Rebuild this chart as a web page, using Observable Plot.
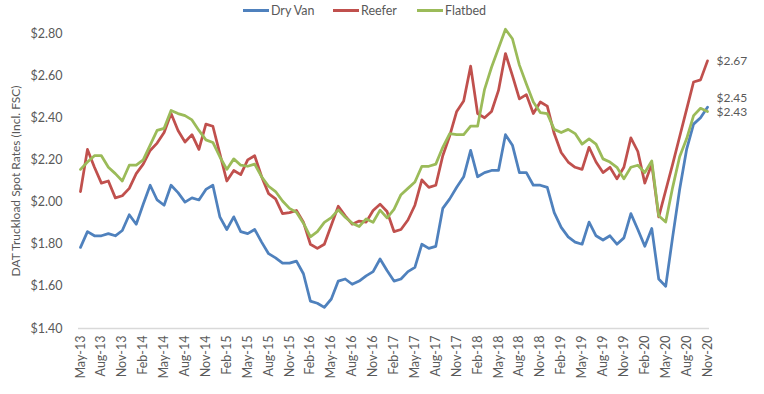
<!DOCTYPE html>
<html><head><meta charset="utf-8">
<script src="https://cdn.jsdelivr.net/npm/d3@7"></script>
<script src="https://cdn.jsdelivr.net/npm/@observablehq/plot@0.6"></script>
<style>
body{margin:0;background:#fff;}
#wrap{position:relative;width:764px;height:394px;font-family:Lato,sans-serif;}
.item{position:absolute;top:3px;display:flex;align-items:center;white-space:nowrap;font:12.5px Lato,sans-serif;color:#595959;}
.swatch{width:26px;height:3px;margin-right:2px;}
</style></head><body><div id="wrap"></div>
<script>
const seriesNames = ["Dry Van", "Reefer", "Flatbed"];
const seriesColors = ["#4F81BD", "#C0504D", "#9BBB59"];
const yTicks = [1.4, 1.6, 1.8, 2.0, 2.2, 2.4, 2.6, 2.8];
const tickLabels = ["May-13","Aug-13","Nov-13","Feb-14","May-14","Aug-14","Nov-14","Feb-15","May-15","Aug-15","Nov-15","Feb-16","May-16","Aug-16","Nov-16","Feb-17","May-17","Aug-17","Nov-17","Feb-18","May-18","Aug-18","Nov-18","Feb-19","May-19","Aug-19","Nov-19","Feb-20","May-20","Aug-20","Nov-20"];
const monthNames = ["Jan","Feb","Mar","Apr","May","Jun","Jul","Aug","Sep","Oct","Nov","Dec"];
const yTitle = "DAT Truckload Spot Rates (Incl. FSC)";

const dryVan = [1.785,1.86,1.84,1.84,1.85,1.84,1.865,1.94,1.895,1.99,2.08,2.01,1.985,2.08,2.045,2.00,2.02,2.01,2.06,2.08,
1.93,1.87,1.93,1.86,1.85,1.87,1.81,1.755,1.735,1.71,1.71,1.72,1.66,1.53,1.52,1.50,1.54,1.625,1.635,1.61,
1.625,1.65,1.67,1.73,1.675,1.625,1.635,1.67,1.69,1.80,1.78,1.79,1.97,2.015,2.07,2.12,2.245,2.12,2.14,2.15,
2.15,2.32,2.27,2.14,2.14,2.08,2.08,2.07,1.95,1.88,1.835,1.81,1.80,1.905,1.84,1.82,1.84,1.80,1.83,1.945,
1.87,1.79,1.875,1.635,1.60,1.835,2.06,2.25,2.37,2.40,2.45];
const reefer = [2.05,2.25,2.165,2.09,2.10,2.02,2.03,2.065,2.135,2.18,2.245,2.28,2.33,2.42,2.34,2.285,2.32,2.25,2.37,2.36,
2.23,2.10,2.15,2.13,2.20,2.22,2.12,2.04,2.015,1.945,1.95,1.96,1.905,1.80,1.78,1.80,1.89,1.98,1.935,1.895,
1.91,1.905,1.96,1.99,1.955,1.86,1.87,1.915,1.985,2.105,2.07,2.08,2.22,2.315,2.43,2.48,2.645,2.42,2.40,2.43,
2.53,2.705,2.60,2.49,2.51,2.42,2.475,2.455,2.325,2.235,2.19,2.165,2.155,2.26,2.19,2.14,2.165,2.11,2.165,2.305,
2.24,2.09,2.18,1.93,2.055,2.18,2.31,2.44,2.57,2.58,2.67];
const flatbed = [2.155,2.19,2.22,2.22,2.165,2.135,2.10,2.175,2.175,2.20,2.27,2.34,2.35,2.435,2.42,2.41,2.39,2.34,2.295,2.283,
2.215,2.155,2.205,2.175,2.17,2.18,2.12,2.075,2.05,2.005,1.97,1.952,1.90,1.835,1.86,1.904,1.926,1.963,1.928,1.90,
1.884,1.92,1.904,1.962,1.925,1.965,2.035,2.065,2.095,2.17,2.17,2.18,2.26,2.325,2.32,2.32,2.36,2.36,2.535,2.64,
2.73,2.82,2.775,2.65,2.56,2.475,2.425,2.42,2.345,2.33,2.345,2.325,2.275,2.30,2.275,2.205,2.19,2.165,2.11,2.165,
2.175,2.14,2.195,1.935,1.905,2.07,2.215,2.30,2.41,2.445,2.43];

// month categories May-13 .. Nov-20
const months = [];
for (let y = 13; y <= 20; y++) {
  for (let m = 0; m < 12; m++) {
    if (y === 13 && m < 4) continue;
    if (y === 20 && m > 10) continue;
    months.push(`${monthNames[m]}-${y}`);
  }
}

const seriesValues = [dryVan, reefer, flatbed];
const data = [];
seriesNames.forEach((s, k) => seriesValues[k].forEach((v, i) => data.push({series: s, month: months[i], value: v})));

const fmt = d => "$" + d.toFixed(2);
const last = k => ({month: months[months.length - 1], value: seriesValues[k][seriesValues[k].length - 1]});

const chart = Plot.plot({
  width: 764, height: 394,
  marginLeft: 80, marginRight: 57, marginTop: 33, marginBottom: 66,
  style: {fontFamily: "Lato, sans-serif", fontSize: "12.5px", color: "#595959", background: "white", overflow: "visible"},
  x: {type: "point", domain: months, padding: 0},
  y: {domain: [1.4, 2.8]},
  color: {domain: seriesNames, range: seriesColors},
  marks: [
    Plot.ruleY([1.4], {stroke: "#d9d9d9", strokeWidth: 1.3, insetLeft: -2, insetRight: -2}),
    Plot.axisY({ticks: yTicks, tickSize: 0, tickPadding: 18, tickFormat: fmt, label: null}),
    Plot.axisX({ticks: tickLabels, tickSize: 0, tickPadding: 7, tickRotate: -90, label: null}),
    Plot.line(data, {x: "month", y: "value", z: "series", stroke: "series", strokeWidth: 2.75, strokeLinejoin: "round"}),
    Plot.text([last(1)], {x: "month", y: "value", text: d => fmt(d.value), dx: 9, textAnchor: "start", fill: "#595959", fontSize: 12}),
    Plot.text([last(2)], {x: "month", y: "value", text: d => fmt(d.value), dx: 9, dy: 1, textAnchor: "start", fill: "#595959", fontSize: 12}),
    Plot.text([last(0)], {x: "month", y: "value", text: d => fmt(d.value), dx: 9, dy: -9.5, textAnchor: "start", fill: "#595959", fontSize: 12}),
    Plot.text([yTitle], {frameAnchor: "left", text: d => d, rotate: -90, dx: -64, textAnchor: "middle", fill: "#595959", fontSize: 12})
  ]
});

const wrap = document.getElementById("wrap");
wrap.appendChild(chart);
const legendLeft = [243, 333, 417];
seriesNames.forEach((s, k) => {
  const it = document.createElement("div");
  it.className = "item";
  it.style.left = legendLeft[k] + "px";
  it.innerHTML = `<span class="swatch" style="background:${seriesColors[k]}"></span><span>${s}</span>`;
  wrap.appendChild(it);
});
</script></body></html>
